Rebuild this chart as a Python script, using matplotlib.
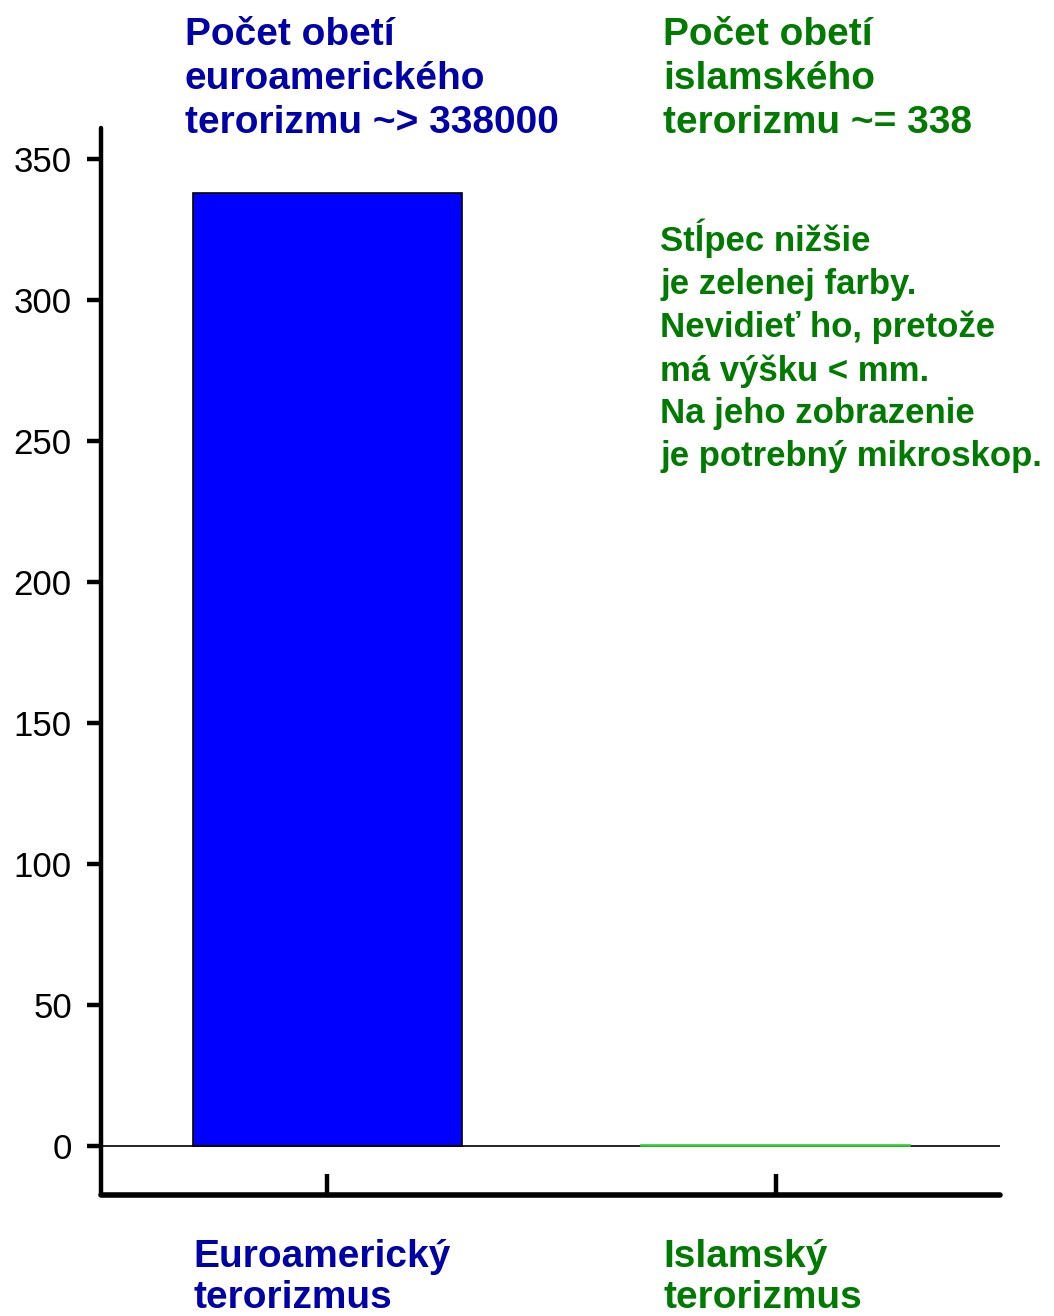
import matplotlib
matplotlib.use("Agg")
import matplotlib.pyplot as plt

plt.rcParams['font.family'] = ['Liberation Sans', 'DejaVu Sans']

categories = ["Euroamerický\nterorizmus", "Islamský\nterorizmus"]
values = [338, 0.338]  # in thousands of victims
bar_colors = ["#0000FF", "#33CC33"]
label_colors = ["#0000A8", "#007A00"]
yticks = [0, 50, 100, 150, 200, 250, 300, 350]
titles = ["Počet obetí\neuroamerického\nterorizmu ~> 338000",
          "Počet obetí\nislamského\nterorizmu ~= 338"]
note = ("Stĺpec nižšie\nje zelenej farby.\nNevidieť ho, pretože\n"
        "má výšku < mm.\nNa jeho zobrazenie\nje potrebný mikroskop.")

fig = plt.figure(figsize=(10.54, 13.16), dpi=100)
ax = fig.add_axes([101/1054, 1 - 1195/1316, (1000-101)/1054, (1195-128)/1316])

x = list(range(len(categories)))
ax.bar(x[0], values[0], width=0.6, color=bar_colors[0], edgecolor="black", linewidth=1.2, zorder=2)
ax.bar(x[1], values[1], width=0.6, color=bar_colors[1], edgecolor="#33CC33", linewidth=1.2, zorder=3)
ax.axhline(0, color="black", linewidth=1.2, zorder=2.5)

ax.set_xlim(-0.505, 1.50)
ax.set_ylim(-17.4, 361)
ax.set_yticks(yticks)
ax.set_yticklabels([str(t) for t in yticks], fontsize=25)
ax.set_xticks(x)
ax.set_xticklabels([])

for s in ["top", "right"]:
    ax.spines[s].set_visible(False)
ax.spines["left"].set_linewidth(3.2)
ax.spines["bottom"].set_linewidth(4)
ax.spines["left"].set_capstyle("round")
ax.spines["bottom"].set_capstyle("round")
ax.tick_params(axis="y", direction="out", length=10, width=3.2, pad=11)
ax.tick_params(axis="x", direction="in", length=15, width=3.2)

# category labels
fig.text(193/1054, 1 - 1239/1316, categories[0], color=label_colors[0], fontsize=28,
         fontweight="bold", va="top", ha="left", linespacing=1.18)
fig.text(663/1054, 1 - 1239/1316, categories[1], color=label_colors[1], fontsize=28,
         fontweight="bold", va="top", ha="left", linespacing=1.18)

# titles
fig.text(185/1054, 1 - 17/1316, titles[0], color=label_colors[0], fontsize=28,
         fontweight="bold", va="top", ha="left", linespacing=1.28)
fig.text(663/1054, 1 - 17/1316, titles[1], color=label_colors[1], fontsize=28,
         fontweight="bold", va="top", ha="left", linespacing=1.28)

# note
fig.text(660/1054, 1 - 219/1316, note, color=label_colors[1], fontsize=25,
         fontweight="bold", va="top", ha="left", linespacing=1.37)

fig.savefig("out.png", dpi=100)
